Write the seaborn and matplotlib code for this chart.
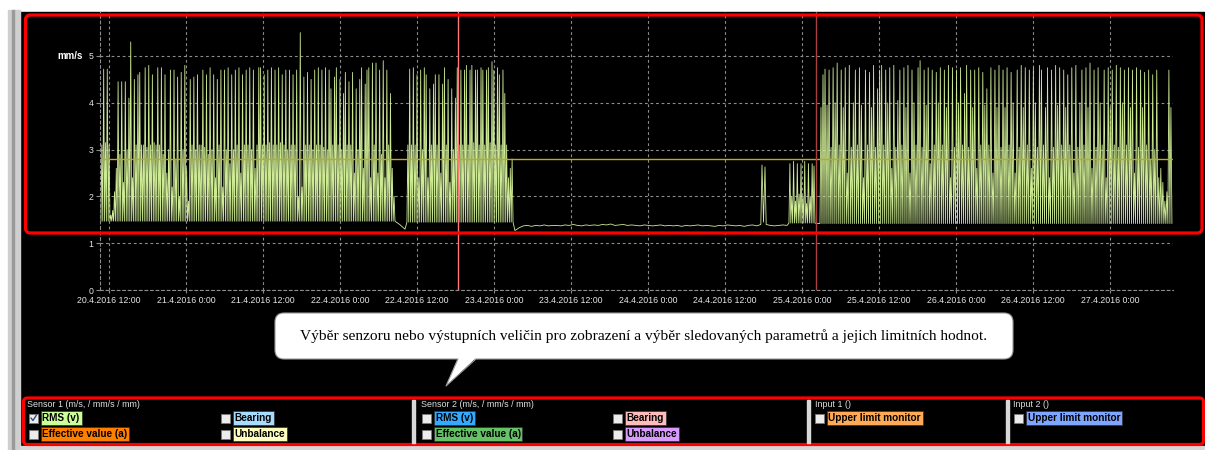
import pandas as pd
import matplotlib.pyplot as plt
import matplotlib.dates as mdates
from matplotlib.patches import Rectangle, FancyBboxPatch, Polygon
from matplotlib.ticker import FuncFormatter
import seaborn as sns

a_span = ("2016-04-20 10:45", "2016-04-22 08:34")
a_base = 1.47
a_peaks = [
    3.1, 4.72, 3.15, 4.72, 3.1, 1.6, 1.7, 2.1, 2.6,
    4.45, 2.9, 4.45, 2.3, 4.45, 3.0, 4.1, 5.3, 2.4, 4.5,
    3.1, 4.6, 4.65, 3.1, 3.1, 4.75, 3.05, 4.8, 3.1, 4.6,
    3.15, 3.1, 4.75, 3.1, 4.75, 2.9, 4.6, 2.5, 3.0, 4.7,
    2.2, 4.7, 2.8, 4.55, 2.0, 4.65, 3.0, 4.8, 2.6, 1.9,
    4.5, 3.1, 4.55, 3.0, 4.6, 3.1, 3.1, 4.7, 3.05, 4.6,
    2.9, 4.75, 3.0, 4.6, 2.4, 4.5, 3.1, 4.7, 2.2, 4.7,
    3.0, 4.75, 2.7, 4.6, 3.0, 4.7, 3.1, 4.75, 2.5, 4.6,
    3.1, 4.7, 3.1, 4.75, 3.0, 4.7, 2.6, 3.1, 4.75,
    4.75, 3.1, 4.6, 3.1, 4.7, 3.15, 4.75, 3.1, 4.7, 3.1,
    4.75, 3.15, 4.6, 3.1, 4.7, 3.0, 4.7, 3.1, 4.6, 3.1,
    4.7, 2.0, 5.5, 2.2, 4.55, 3.1, 4.65, 3.1, 4.5, 3.0,
    4.7, 3.1, 4.75, 3.1, 4.7, 3.05, 4.75, 3.0, 4.7, 4.3,
    3.1, 4.55, 4.75, 3.1, 4.5, 3.0, 4.2, 4.65, 3.1, 4.45,
    3.1, 4.65, 2.5, 4.3, 3.0, 4.5, 4.75, 2.6, 4.4, 4.7,
    4.75, 2.4, 4.85, 3.1, 4.85, 2.5, 4.7, 2.9, 4.9, 2.4,
    4.7, 3.1, 4.2, 2.6, 2.0,
]
dip_span = ("2016-04-22 08:53", "2016-04-22 10:08")
dip_vals = [1.44, 1.40, 1.35, 1.30]
b_span = ("2016-04-22 10:26", "2016-04-23 02:58")
b_base = 1.45
b_peaks = [
    3.1, 4.72, 3.1, 4.75, 3.1, 4.6, 2.4, 4.7, 3.0, 4.75,
    4.6, 2.4, 4.3, 3.1, 4.4, 4.6, 3.1, 4.6, 2.5, 4.4,
    4.75, 3.1, 4.5, 2.3, 4.3, 3.0, 4.1, 4.75, 3.1, 4.7,
    3.1, 4.7, 4.8, 3.1, 4.7, 4.8, 3.15, 4.7, 4.7, 3.1,
    4.75, 4.7, 3.1, 4.7, 4.75, 3.15, 4.88, 4.7, 3.1, 4.75,
    4.6, 3.1, 4.7, 4.2, 3.1, 2.4, 2.6, 2.8,
]
idle_span = ("2016-04-23 03:16", "2016-04-24 17:35")
idle_vals = [
    1.27, 1.33, 1.37, 1.38, 1.36, 1.38, 1.37, 1.39, 1.37, 1.38,
    1.38, 1.37, 1.39, 1.38, 1.40, 1.38, 1.37, 1.39, 1.38, 1.39,
    1.38, 1.40, 1.39, 1.41, 1.38, 1.39, 1.40, 1.38, 1.39, 1.38,
    1.37, 1.39, 1.38, 1.37, 1.38, 1.39, 1.37, 1.38, 1.37, 1.38,
    1.36, 1.38, 1.37, 1.38, 1.39, 1.37, 1.38, 1.37, 1.36, 1.38,
    1.37, 1.39, 1.38, 1.37, 1.38, 1.36, 1.38, 1.39, 1.37, 1.40,
]
blip_span = ("2016-04-24 17:46", "2016-04-24 18:14")
blip_vals = [2.67, 1.45, 2.63]
idle2_span = ("2016-04-24 18:25", "2016-04-24 21:40")
idle2_vals = [1.40, 1.38, 1.37, 1.38, 1.39, 1.38]
c_span = ("2016-04-24 21:58", "2016-04-25 02:01")
c_base = 1.43
c_peaks = [2.7, 2.0, 2.75, 1.9, 2.7, 2.05, 2.7, 2.0, 2.75, 1.85, 2.7, 2.0, 2.7, 2.65]
gap_span = ("2016-04-25 02:18", "2016-04-25 02:30")
gap_vals = [1.42, 1.42]
d_span = ("2016-04-25 02:48", "2016-04-27 09:39")
d_base = 1.42
d_peaks = [
    3.9, 4.6, 4.72, 3.95, 4.7, 3.05, 4.75, 4.0, 4.85, 3.1,
    4.7, 3.9, 4.75, 2.5, 4.8, 3.05, 4.0, 4.7, 3.1, 4.75,
    3.95, 2.4, 4.7, 3.1, 4.65, 3.9, 4.8, 3.05, 4.3, 4.7,
    4.8, 3.1, 4.7, 4.0, 4.75, 2.6, 4.8, 3.05, 4.05, 4.7,
    3.1, 4.75, 3.9, 4.8, 2.5, 4.7, 4.0, 3.1, 4.75, 4.9,
    3.05, 4.7, 3.95, 4.75, 2.7, 4.7, 3.1, 4.65, 4.0, 4.75,
    3.1, 4.7, 3.9, 4.8, 2.4, 4.75, 3.05, 4.7, 4.0, 4.75,
    3.1, 4.2, 4.8, 3.05, 4.7, 3.9, 4.7, 2.6, 4.75, 3.1,
    4.65, 3.95, 4.3, 3.1, 4.75, 2.5, 4.7, 3.9, 4.8, 3.05,
    4.7, 3.9, 4.75, 3.1, 4.65, 4.0, 2.5, 4.7, 3.05, 4.8,
    3.9, 4.75, 3.1, 4.7, 2.6, 4.75, 4.0, 3.05, 4.8, 4.7,
    3.1, 3.9, 4.75, 2.4, 4.7, 3.05, 4.8, 3.95, 4.75, 3.1,
    4.7, 3.9, 4.6, 3.1, 4.75, 2.5, 4.8, 3.05, 4.0, 4.7,
    3.1, 4.75, 3.9, 4.85, 2.6, 4.7, 3.05, 4.75, 4.0, 3.1,
    4.7, 2.4, 4.75, 3.9, 4.7, 3.1, 4.8, 3.05, 4.75, 4.0,
    4.7, 3.1, 4.75, 3.9, 4.7, 2.5, 4.75, 3.05, 4.7, 3.9,
    4.65, 3.1, 4.7, 2.8, 4.6, 3.0, 4.7, 2.4, 2.6, 2.3,
    1.9, 2.1, 4.7, 3.9,
]

limit_value = 2.8
markers = ["2016-04-22 18:24", "2016-04-25 02:10"]
x_range = ("2016-04-20 10:36", "2016-04-27 09:49")
y_ticks = [0, 1, 2, 3, 4, 5]

callout = "Výběr senzoru nebo výstupních veličin pro zobrazení a výběr sledovaných parametrů a jejich limitních hodnot."
group_titles = ["Sensor 1 (m/s, / mm/s / mm)", "Sensor 2 (m/s, / mm/s / mm)", "Input 1 ()", "Input 2 ()"]
s1_labels = ["RMS (v)", "Effective value (a)", "Bearing", "Unbalance"]
s1_colors = ["#ccff99", "#ff8000", "#a8dcff", "#ffffc0"]
s2_labels = ["RMS (v)", "Effective value (a)", "Bearing", "Unbalance"]
s2_colors = ["#33aaff", "#66c266", "#ffbcbc", "#d89cff"]
in_labels = ["Upper limit monitor", "Upper limit monitor"]
in_colors = ["#ffaa55", "#7fa6ff"]


def teeth(peaks, base):
    out = [base]
    for p in peaks:
        out += [p, base]
    return out


segments = [
    (a_span, teeth(a_peaks, a_base)),
    (dip_span, dip_vals),
    (b_span, teeth(b_peaks, b_base)),
    (idle_span, idle_vals),
    (blip_span, blip_vals),
    (idle2_span, idle2_vals),
    (c_span, teeth(c_peaks, c_base)),
    (gap_span, gap_vals),
    (d_span, teeth(d_peaks, d_base)),
]
frames = []
for span, vals in segments:
    t = pd.date_range(span[0], span[1], periods=len(vals))
    frames.append(pd.DataFrame({"time": t, "mm_s": vals}))
df = pd.concat(frames, ignore_index=True)

sns.set_style("dark")
plt.rcParams["font.family"] = ["Liberation Sans", "DejaVu Sans"]

W, H = 1205, 450
fig = plt.figure(figsize=(W / 100, H / 100), dpi=100)
fig.patch.set_facecolor("white")


def box(x0, y0, x1, y1):
    return [x0 / W, 1 - y1 / H, (x1 - x0) / W, (y1 - y0) / H]


# background: black screen + window frame
bg = fig.add_axes([0, 0, 1, 1], zorder=0)
bg.set_xlim(0, W)
bg.set_ylim(H, 0)
bg.axis("off")
bg.add_patch(Rectangle((20, 12), 1185, 434, color="black"))
bg.add_patch(Rectangle((8, 10), 12, 440, color="#cfcfcf"))
bg.add_patch(Rectangle((12, 10), 2, 440, color="#9a9a9a"))
bg.add_patch(Rectangle((20, 446), 1185, 4, color="#d6d6d6"))

# trend chart
ax = fig.add_axes(box(100, 12, 1173, 290), zorder=1)
ax.set_facecolor("none")
sns.lineplot(data=df, x="time", y="mm_s", ax=ax, estimator=None, sort=False,
             color="#cdea94", lw=0.6)
ax.set_xlim(pd.Timestamp(x_range[0]), pd.Timestamp(x_range[1]))
ax.set_ylim(0, 5.94)
ax.set_yticks(y_ticks)
ax.xaxis.set_major_locator(mdates.HourLocator(byhour=[0, 12]))


def fmt(x, pos):
    d = pd.Timestamp(mdates.num2date(x)).round("min")
    return f"{d.day}.{d.month}.{d.year} {d.hour}:{d.minute:02d}"


ax.xaxis.set_major_formatter(FuncFormatter(fmt))
ax.set_xlabel("")
ax.set_ylabel("")
ax.grid(True, color="#8c8c8c", lw=0.8, ls=(0, (2.5, 2.5)))
for s in ["top", "right"]:
    ax.spines[s].set_visible(False)
for s in ["left", "bottom"]:
    ax.spines[s].set_color("#8c8c8c")
    ax.spines[s].set_linestyle((0, (2.5, 2.5)))
    ax.spines[s].set_linewidth(0.8)
ax.tick_params(axis="both", colors="#8c8c8c", labelcolor="#e6e6e6", labelsize=6.3,
               length=3, width=0.8, left=True, bottom=True)
ax.tick_params(axis="x", length=2, pad=2.5)
ax.tick_params(axis="y", pad=1.5)
ax.axhline(limit_value, color="#bfae10", lw=1)
ax.axvline(pd.Timestamp(markers[0]), color="#ff7b7b", lw=1)
ax.axvline(pd.Timestamp(markers[1]), color="#a84040", lw=1)
ax.text(-0.016, 5, "mm/s", transform=ax.get_yaxis_transform(), ha="right", va="center",
        color="white", fontsize=7, fontweight="bold")

# overlay: red highlight frames, selection panel, callout
ov = fig.add_axes([0, 0, 1, 1], zorder=2)
ov.set_facecolor("none")
ov.set_xlim(0, W)
ov.set_ylim(H, 0)
ov.axis("off")
ov.add_patch(FancyBboxPatch((25.5, 15), 1176.5, 218, boxstyle="round,pad=0,rounding_size=5",
                            fc="none", ec="#ff0000", lw=2.3))
ov.add_patch(FancyBboxPatch((23.5, 398), 1180, 46.5, boxstyle="round,pad=0,rounding_size=4",
                            fc="none", ec="#ff0000", lw=2.3))
for xs in [412, 807, 1006]:
    ov.add_patch(Rectangle((xs, 399.5), 3, 43.5, color="#d8d8d8"))

for gx, title in zip([27, 421, 815, 1013], group_titles):
    ov.text(gx, 404.5, title, color="#e0e0e0", fontsize=6.4, ha="left", va="center")


def check_item(x, y, label, color, checked=False):
    ov.add_patch(Rectangle((x, y - 4.5), 9, 9, fc="#ececec", ec="#7a7a7a", lw=0.6))
    if checked:
        ov.plot([x + 2, x + 4, x + 7.5], [y, y + 2.5, y - 3], color="#3c4a80", lw=1.0)
    ov.text(x + 13.5, y, label, fontsize=7.2, fontweight="bold", color="black", ha="left",
            va="center", bbox=dict(boxstyle="square,pad=0.18", fc=color, ec="#303030", lw=0.5))


rows = [418, 434, 418, 434]
s1_x = [29, 29, 221, 221]
s2_x = [422, 422, 613, 613]
for i in range(4):
    check_item(s1_x[i], rows[i], s1_labels[i], s1_colors[i], checked=(i == 0))
    check_item(s2_x[i], rows[i], s2_labels[i], s2_colors[i])
for gx, lab, col in zip([815, 1014], in_labels, in_colors):
    check_item(gx, 418, lab, col)

ov.add_patch(FancyBboxPatch((275, 313), 738, 46, boxstyle="round,pad=0,rounding_size=9",
                            fc="white", ec="#9a9a9a", lw=0.8))
ov.add_patch(Polygon([(458, 358), (476, 358), (446, 386)], fc="white", ec="none"))
ov.plot([458, 446, 476], [359, 386, 359], color="#9a9a9a", lw=0.8)
ov.text(644, 336, callout, family=["Liberation Serif", "DejaVu Serif"], fontsize=11.05,
        color="black", ha="center", va="center")

fig.savefig("out.png", dpi=100)
